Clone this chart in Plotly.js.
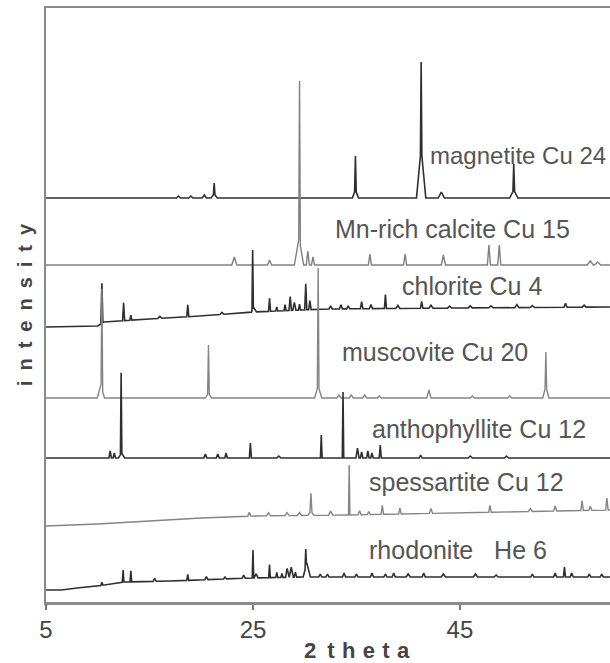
<!DOCTYPE html>
<html>
<head>
<meta charset="utf-8">
<script src="https://cdn.plot.ly/plotly-3.0.1.min.js"></script>
<style>html,body{margin:0;padding:0;background:#fff;}#chart{width:610px;height:663px;}</style>
</head>
<body>
<div id="chart"></div>
<script>
// ---- data (2θ in degrees, intensity in arbitrary stacked units) ----
const names = ["magnetite Cu 24", "Mn-rich calcite Cu 15", "chlorite Cu 4", "muscovite Cu 20",
               "anthophyllite Cu 12", "spessartite Cu 12", "rhodonite\u00A0\u00A0\u00A0He 6"];
const offsets = [404, 337, 275, 204, 144, 76, 12];

// background anchors (relative to offset)
const bgMagnetiteX = [5, 59.5], bgMagnetiteY = [0, 0];
const bgCalciteX = [5, 59.5], bgCalciteY = [0, 0];
const bgChloriteX = [5, 10, 10.6, 15, 20, 25, 32, 45, 59.5], bgChloriteY = [0, 1, 5, 8, 11, 15, 18, 19, 20];
const bgMuscoviteX = [5, 59.5], bgMuscoviteY = [0, 0];
const bgAnthoX = [5, 59.5], bgAnthoY = [0, 0];
const bgSpessX = [5, 10, 15, 20, 25, 34, 59.5], bgSpessY = [0, 2, 5, 8, 10, 11, 16];
const bgRhodoX = [5, 6.5, 8, 10, 12.5, 17, 24.7, 30, 59.5], bgRhodoY = [0, 0, 2, 4, 8, 9, 12, 13, 13];

// peaks: [2θ, height above background, half-width]
const peaksMagnetite = [[17.8,2,0.2],[19.0,2,0.2],[20.3,3,0.2],[21.25,11,0.08],[21.25,4,0.3],
  [34.9,34,0.08],[34.9,8,0.3],[41.25,86,0.07],[41.25,50,0.45],[43.2,6,0.3],[50.2,26,0.08],[50.2,8,0.4]];
const peaksCalcite = [[23.2,8,0.25],[26.6,5,0.2],[29.5,160,0.08],[29.45,27,0.45],[30.3,14,0.15],[30.8,8,0.15],
  [36.3,11,0.15],[39.7,11,0.15],[43.4,10,0.2],[47.8,20,0.15],[48.8,20,0.15],[57.6,4,0.3],[58.3,3,0.3]];
const peaksChlorite = [[10.4,40,0.1],[12.5,18,0.1],[13.2,5,0.1],[16.0,2,0.2],[18.7,12,0.1],[22.0,2,0.2],
  [24.97,60,0.07],[25.1,4,0.25],[26.6,13,0.1],[27.3,4,0.1],[28.1,6,0.1],[28.6,14,0.12],[29.0,8,0.15],
  [29.5,6,0.1],[30.1,26,0.1],[30.5,9,0.12],[32.5,3,0.15],[33.5,4,0.15],[34.2,3,0.15],[35.5,7,0.12],
  [36.4,4,0.15],[37.8,14,0.1],[39.0,3,0.2],[41.3,7,0.12],[42.2,3,0.2],[44.0,2,0.2],[46.0,2,0.2],
  [48.0,2,0.2],[50.5,3,0.2],[52.0,2,0.2],[55.2,4,0.15],[57.0,2,0.2]];
const peaksMuscovite = [[10.4,100,0.08],[10.3,13,0.35],[20.7,48,0.08],[20.7,5,0.3],[31.3,118,0.08],[31.3,12,0.35],
  [33.3,3,0.2],[34.5,3,0.2],[35.8,3,0.2],[37.2,2,0.2],[42.0,8,0.2],[46.2,2,0.2],[49.8,2,0.2],
  [53.3,34,0.08],[53.3,12,0.3]];
const peaksAntho = [[11.2,7,0.12],[11.6,5,0.12],[12.26,81,0.07],[12.3,5,0.3],[20.4,4,0.15],[21.6,4,0.15],
  [22.4,5,0.12],[24.75,15,0.1],[27.5,2,0.2],[31.6,23,0.08],[33.7,66,0.07],[35.1,10,0.15],[35.5,6,0.12],
  [36.1,7,0.12],[36.5,5,0.12],[37.3,13,0.1],[41.2,3,0.15],[46.0,2,0.2],[49.5,2,0.2]];
const peaksSpess = [[24.65,4,0.15],[26.5,3,0.2],[28.3,3,0.2],[29.5,3,0.2],[30.6,18,0.1],[30.6,4,0.3],
  [32.5,4,0.2],[34.3,50,0.07],[35.3,4,0.15],[36.2,3,0.15],[37.5,9,0.12],[39.2,6,0.12],[42.2,5,0.15],
  [47.9,7,0.12],[51.8,3,0.2],[54.2,5,0.15],[56.8,10,0.12],[57.6,4,0.15],[59.2,12,0.12]];
const peaksRhodo = [[10.4,3,0.1],[12.45,12,0.08],[13.2,11,0.08],[15.5,3,0.15],[18.7,6,0.1],[20.5,3,0.15],
  [22.3,2,0.15],[24.1,3,0.15],[25.0,28,0.07],[25.3,4,0.2],[26.6,13,0.08],[27.3,5,0.1],[27.8,4,0.1],
  [28.3,9,0.15],[28.7,10,0.2],[29.1,5,0.12],[30.1,18,0.07],[30.2,14,0.35],[31.5,3,0.15],[32.2,3,0.15],
  [33.8,4,0.15],[35.0,3,0.15],[36.5,4,0.15],[37.8,3,0.15],[38.6,4,0.15],[40.0,3,0.2],[41.5,4,0.15],
  [43.4,3,0.2],[46.5,3,0.2],[48.5,2,0.2],[52.0,3,0.15],[54.2,4,0.15],[55.1,10,0.1],[55.8,4,0.15],
  [57.5,3,0.15],[58.7,3,0.15]];

const xTickVals = [5, 25, 45];
const xTickText = ["5", "25", "45"];
// label anchor positions (2θ, intensity)
const labelX = [41.95, 32.7, 39.2, 33.4, 36.3, 36.0, 36.0];
const labelY = [447, 373, 316, 250, 173, 120, 52];
const labelSize = [24, 25, 25, 25, 25, 25, 25];

// ---- build traces ----
const bgX = [bgMagnetiteX, bgCalciteX, bgChloriteX, bgMuscoviteX, bgAnthoX, bgSpessX, bgRhodoX];
const bgY = [bgMagnetiteY, bgCalciteY, bgChloriteY, bgMuscoviteY, bgAnthoY, bgSpessY, bgRhodoY];
const peaks = [peaksMagnetite, peaksCalcite, peaksChlorite, peaksMuscovite, peaksAntho, peaksSpess, peaksRhodo];
const colors = ["#2f2f2f", "#808080", "#2f2f2f", "#858585", "#2f2f2f", "#858585", "#2f2f2f"];
const widths = [1.6, 1.4, 1.6, 1.4, 1.6, 1.4, 1.6];

function bgAt(xs, ys, x) {
  if (x <= xs[0]) return ys[0];
  for (let i = 1; i < xs.length; i++) {
    if (x <= xs[i]) return ys[i-1] + (ys[i]-ys[i-1])*(x-xs[i-1])/(xs[i]-xs[i-1]);
  }
  return ys[ys.length-1];
}

const traces = [];
for (let k = 0; k < names.length; k++) {
  let xsSet = new Set(bgX[k]);
  peaks[k].forEach(p => { xsSet.add(+(p[0]-p[2]).toFixed(3)); xsSet.add(p[0]); xsSet.add(+(p[0]+p[2]).toFixed(3)); });
  const xs = Array.from(xsSet).filter(v => v >= 5 && v <= 59.5).sort((a,b)=>a-b);
  const ys = xs.map(x => {
    let y = offsets[k] + bgAt(bgX[k], bgY[k], x);
    peaks[k].forEach(p => { const d = Math.abs(x-p[0]); if (d < p[2]) y += p[1]*(1-d/p[2]); });
    return y;
  });
  traces.push({x: xs, y: ys, type: 'scatter', mode: 'lines', name: names[k],
    line: {color: colors[k], width: widths[k]}, hoverinfo: 'skip', cliponaxis: true});
}

const annotations = names.map((n, k) => ({
  x: labelX[k], y: labelY[k], xref: 'x', yref: 'y', text: n, showarrow: false,
  xanchor: 'left', yanchor: 'middle',
  font: {family: 'Liberation Sans, Arial, sans-serif', size: labelSize[k], color: '#555'}
}));
annotations.push({
  x: (357-46)/(610-46), y: -(651-602)/594, xref: 'paper', yref: 'paper',
  text: '2\u2002t\u2004h\u2004e\u2004t\u2004a', showarrow: false,
  xanchor: 'center', yanchor: 'middle',
  font: {family: 'Liberation Sans, Arial, sans-serif', size: 22, color: '#444', weight: 'bold'}
});

const layout = {
  width: 610, height: 663,
  margin: {l: 46, r: 0, t: 8, b: 61, pad: 0},
  paper_bgcolor: '#fff', plot_bgcolor: '#fff',
  showlegend: false,
  xaxis: {
    range: [5, 59.5], tickvals: xTickVals, ticktext: xTickText,
    ticks: 'outside', ticklen: 5, tickwidth: 1.5, tickcolor: '#777',
    showline: true, linecolor: '#8a8a8a', linewidth: 2.5, mirror: true,
    showgrid: false, zeroline: false,
    tickfont: {family: 'Liberation Sans, Arial, sans-serif', size: 24, color: '#444'}
  },
  yaxis: {
    range: [0, 594], showticklabels: false, ticks: '',
    showline: true, linecolor: '#8a8a8a', linewidth: 2.5,
    showgrid: false, zeroline: false,
    title: {text: 'i\u2002n\u2002t\u2002e\u2002n\u2002s\u2002i\u2002t\u2002y', standoff: 6,
      font: {family: 'Liberation Sans, Arial, sans-serif', size: 20, color: '#444', weight: 'bold'}}
  },
  annotations: annotations
};

Plotly.newPlot('chart', traces, layout, {staticPlot: true, displayModeBar: false});
</script>
</body>
</html>
